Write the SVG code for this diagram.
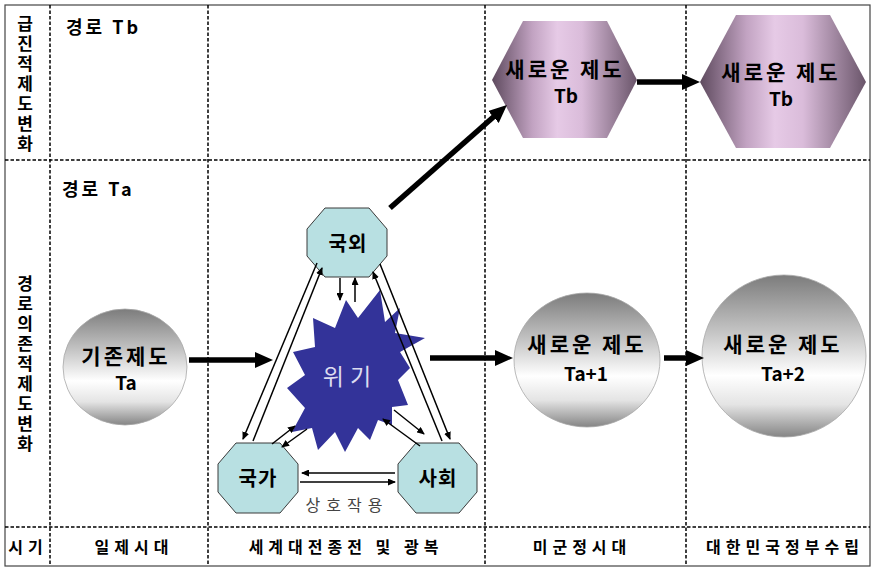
<svg xmlns="http://www.w3.org/2000/svg" width="874" height="571" viewBox="0 0 874 571">
  <defs>
    <style>
      text { font-family: "Noto Sans CJK KR", "Noto Sans", sans-serif; }
      .b { font-weight: bold; fill: #000; }
      .grid { stroke: #000; stroke-width: 1.5; stroke-dasharray: 3.5 2; fill: none; }
      .oct { fill: #b8e0e2; stroke: #3a3a3a; stroke-width: 1; }
      .sph { fill: url(#sphere); stroke: #a8a8a8; stroke-width: 0.8; }
      .hex { fill: url(#hexfill); }
      .thin { stroke: #000; stroke-width: 1.5; fill: none; marker-end: url(#head-s); }
      .thick { stroke: #000; stroke-width: 5.5; fill: none; marker-end: url(#head-l); }
      .lbl { font-size: 17px; font-weight: bold; text-anchor: middle; }
      .node { font-size: 21px; font-weight: bold; text-anchor: middle; letter-spacing: 3px; }
      .sub { font-size: 19px; font-weight: bold; text-anchor: middle; }
      .oc { font-size: 20px; font-weight: bold; text-anchor: middle; letter-spacing: 1px; }
      .era { font-size: 16px; font-weight: bold; text-anchor: middle; letter-spacing: 5px; }
    </style>
    <marker id="head-s" markerUnits="userSpaceOnUse" markerWidth="8" markerHeight="7" viewBox="0 0 8 7" refX="7" refY="3.5" orient="auto">
      <path d="M0,0 L8,3.5 L0,7 z" fill="#000"/>
    </marker>
    <marker id="head-l" markerUnits="userSpaceOnUse" markerWidth="18" markerHeight="16" viewBox="0 0 18 16" refX="9" refY="8" orient="auto">
      <path d="M0,0 L18,8 L0,16 z" fill="#000"/>
    </marker>
    <linearGradient id="sphere" x1="0" y1="0" x2="0" y2="1">
      <stop offset="0" stop-color="#7c7c7c"/>
      <stop offset="0.35" stop-color="#c4c4c4"/>
      <stop offset="0.62" stop-color="#ffffff"/>
      <stop offset="0.8" stop-color="#e4e4e4"/>
      <stop offset="1" stop-color="#858585"/>
    </linearGradient>
    <linearGradient id="hexfill" x1="0" y1="0" x2="1" y2="0">
      <stop offset="0" stop-color="#5e4a5e"/>
      <stop offset="0.28" stop-color="#c2a3c2"/>
      <stop offset="0.45" stop-color="#e6cae6"/>
      <stop offset="0.62" stop-color="#dabcda"/>
      <stop offset="1" stop-color="#6a556a"/>
    </linearGradient>
  </defs>

  <rect x="0" y="0" width="874" height="571" fill="#fff"/>

  <!-- frame and grid -->
  <g id="grid">
    <rect x="5" y="5" width="865" height="561" fill="none" stroke="#444" stroke-width="1.2"/>
    <line class="grid" x1="5" y1="160" x2="870" y2="160"/>
    <line class="grid" x1="5" y1="527" x2="870" y2="527"/>
    <line class="grid" x1="50" y1="5" x2="50" y2="566"/>
    <line class="grid" x1="208" y1="5" x2="208" y2="566"/>
    <line class="grid" x1="485" y1="5" x2="485" y2="566"/>
    <line class="grid" x1="686" y1="5" x2="686" y2="566"/>
  </g>

  <!-- row and column labels -->
  <g id="labels">
    <text class="lbl" x="25 25 25 25 25 25 25" y="30 50 70 90 110 130 150">급진적제도변화</text>
    <text class="lbl" x="25 25 25 25 25 25 25 25 25" y="290 310 330 350 370 390 410 430 450">경로의존적제도변화</text>
    <text class="b" x="66" y="34" font-size="18" letter-spacing="3">경로 Tb</text>
    <text class="b" x="62" y="196" font-size="18" letter-spacing="3">경로 Ta</text>
    <text class="era" x="28" y="553">시기</text>
    <text class="era" x="134" y="553">일제시대</text>
    <text class="era" x="346" y="553">세계대전종전 및 광복</text>
    <text class="era" x="582" y="553">미군정시대</text>
    <text class="era" x="785" y="553">대한민국정부수립</text>
  </g>

  <!-- nodes -->
  <g id="node-existing">
    <ellipse class="sph" cx="125" cy="367" rx="62" ry="58"/>
    <text class="node" x="126" y="364">기존제도</text>
    <text class="sub" x="126" y="390">Ta</text>
  </g>
  <g id="node-ta1">
    <ellipse class="sph" cx="587" cy="360" rx="73" ry="67"/>
    <text class="node" x="587" y="352">새로운 제도</text>
    <text class="sub" x="586" y="381" font-size="18">Ta+1</text>
  </g>
  <g id="node-ta2">
    <ellipse class="sph" cx="784" cy="356" rx="82" ry="81"/>
    <text class="node" x="783" y="352">새로운 제도</text>
    <text class="sub" x="783" y="381" font-size="18">Ta+2</text>
  </g>
  <g id="node-tb1">
    <polygon class="hex" points="523,21 607,21 637,80 607,138 523,138 492,80"/>
    <text class="node" x="565" y="77">새로운 제도</text>
    <text class="sub" x="566" y="103">Tb</text>
  </g>
  <g id="node-tb2">
    <polygon class="hex" points="736,15 830,15 866,82 830,148 736,148 700,82"/>
    <text class="node" x="781" y="80">새로운 제도</text>
    <text class="sub" x="781" y="106">Tb</text>
  </g>
  <g id="node-crisis">
    <polygon fill="#333399" points="380,290 385,322 400,308 395,333 425,338 400,352 410,368 398,380 408,405 392,407 392,425 378,420 370,440 358,428 345,452 335,432 318,450 312,428 292,432 305,408 287,388 305,375 293,352 315,347 313,318 335,328 346,300 358,318"/>
    <text x="350" y="385" font-size="23" fill="#dcdcf0" text-anchor="middle" letter-spacing="6">위기</text>
  </g>
  <g id="node-foreign">
    <polygon class="oct" points="325,208 369,208 387,229 387,256 369,277 325,277 307,256 307,229"/>
    <text class="oc" x="348" y="251">국외</text>
  </g>
  <g id="node-state">
    <polygon class="oct" points="236,443 280,443 298,464 298,492 280,513 236,513 218,492 218,464"/>
    <text class="oc" x="258" y="486">국가</text>
  </g>
  <g id="node-society">
    <polygon class="oct" points="416,443 459,443 477,464 477,492 459,513 416,513 398,492 398,464"/>
    <text class="oc" x="438" y="486">사회</text>
  </g>
  <text x="347" y="511" font-size="16" fill="#444" text-anchor="middle" letter-spacing="6">상호작용</text>

  <!-- connectors -->
  <g id="connectors">
    <line class="thick" x1="189" y1="360" x2="264" y2="360"/>
    <line class="thick" x1="430" y1="358" x2="504" y2="358"/>
    <line class="thick" x1="664" y1="358" x2="695" y2="358"/>
    <line class="thick" x1="637" y1="82" x2="691" y2="82"/>
    <line class="thick" x1="390" y1="208" x2="500.2" y2="111"/>

    <line class="thin" x1="317" y1="263" x2="243" y2="439"/>
    <line class="thin" x1="253" y1="441" x2="322" y2="268"/>
    <line class="thin" x1="380" y1="264" x2="450" y2="439"/>
    <line class="thin" x1="442" y1="441" x2="373" y2="272"/>
    <line class="thin" x1="340" y1="278" x2="340" y2="300"/>
    <line class="thin" x1="355" y1="302" x2="355" y2="278"/>
    <line class="thin" x1="272" y1="444" x2="295" y2="426"/>
    <line class="thin" x1="307" y1="429" x2="282" y2="447"/>
    <line class="thin" x1="420" y1="446" x2="383" y2="419"/>
    <line class="thin" x1="394" y1="410" x2="424" y2="434"/>
    <line class="thin" x1="395" y1="473" x2="302" y2="473"/>
    <line class="thin" x1="300" y1="482" x2="395" y2="482"/>
  </g>
</svg>
